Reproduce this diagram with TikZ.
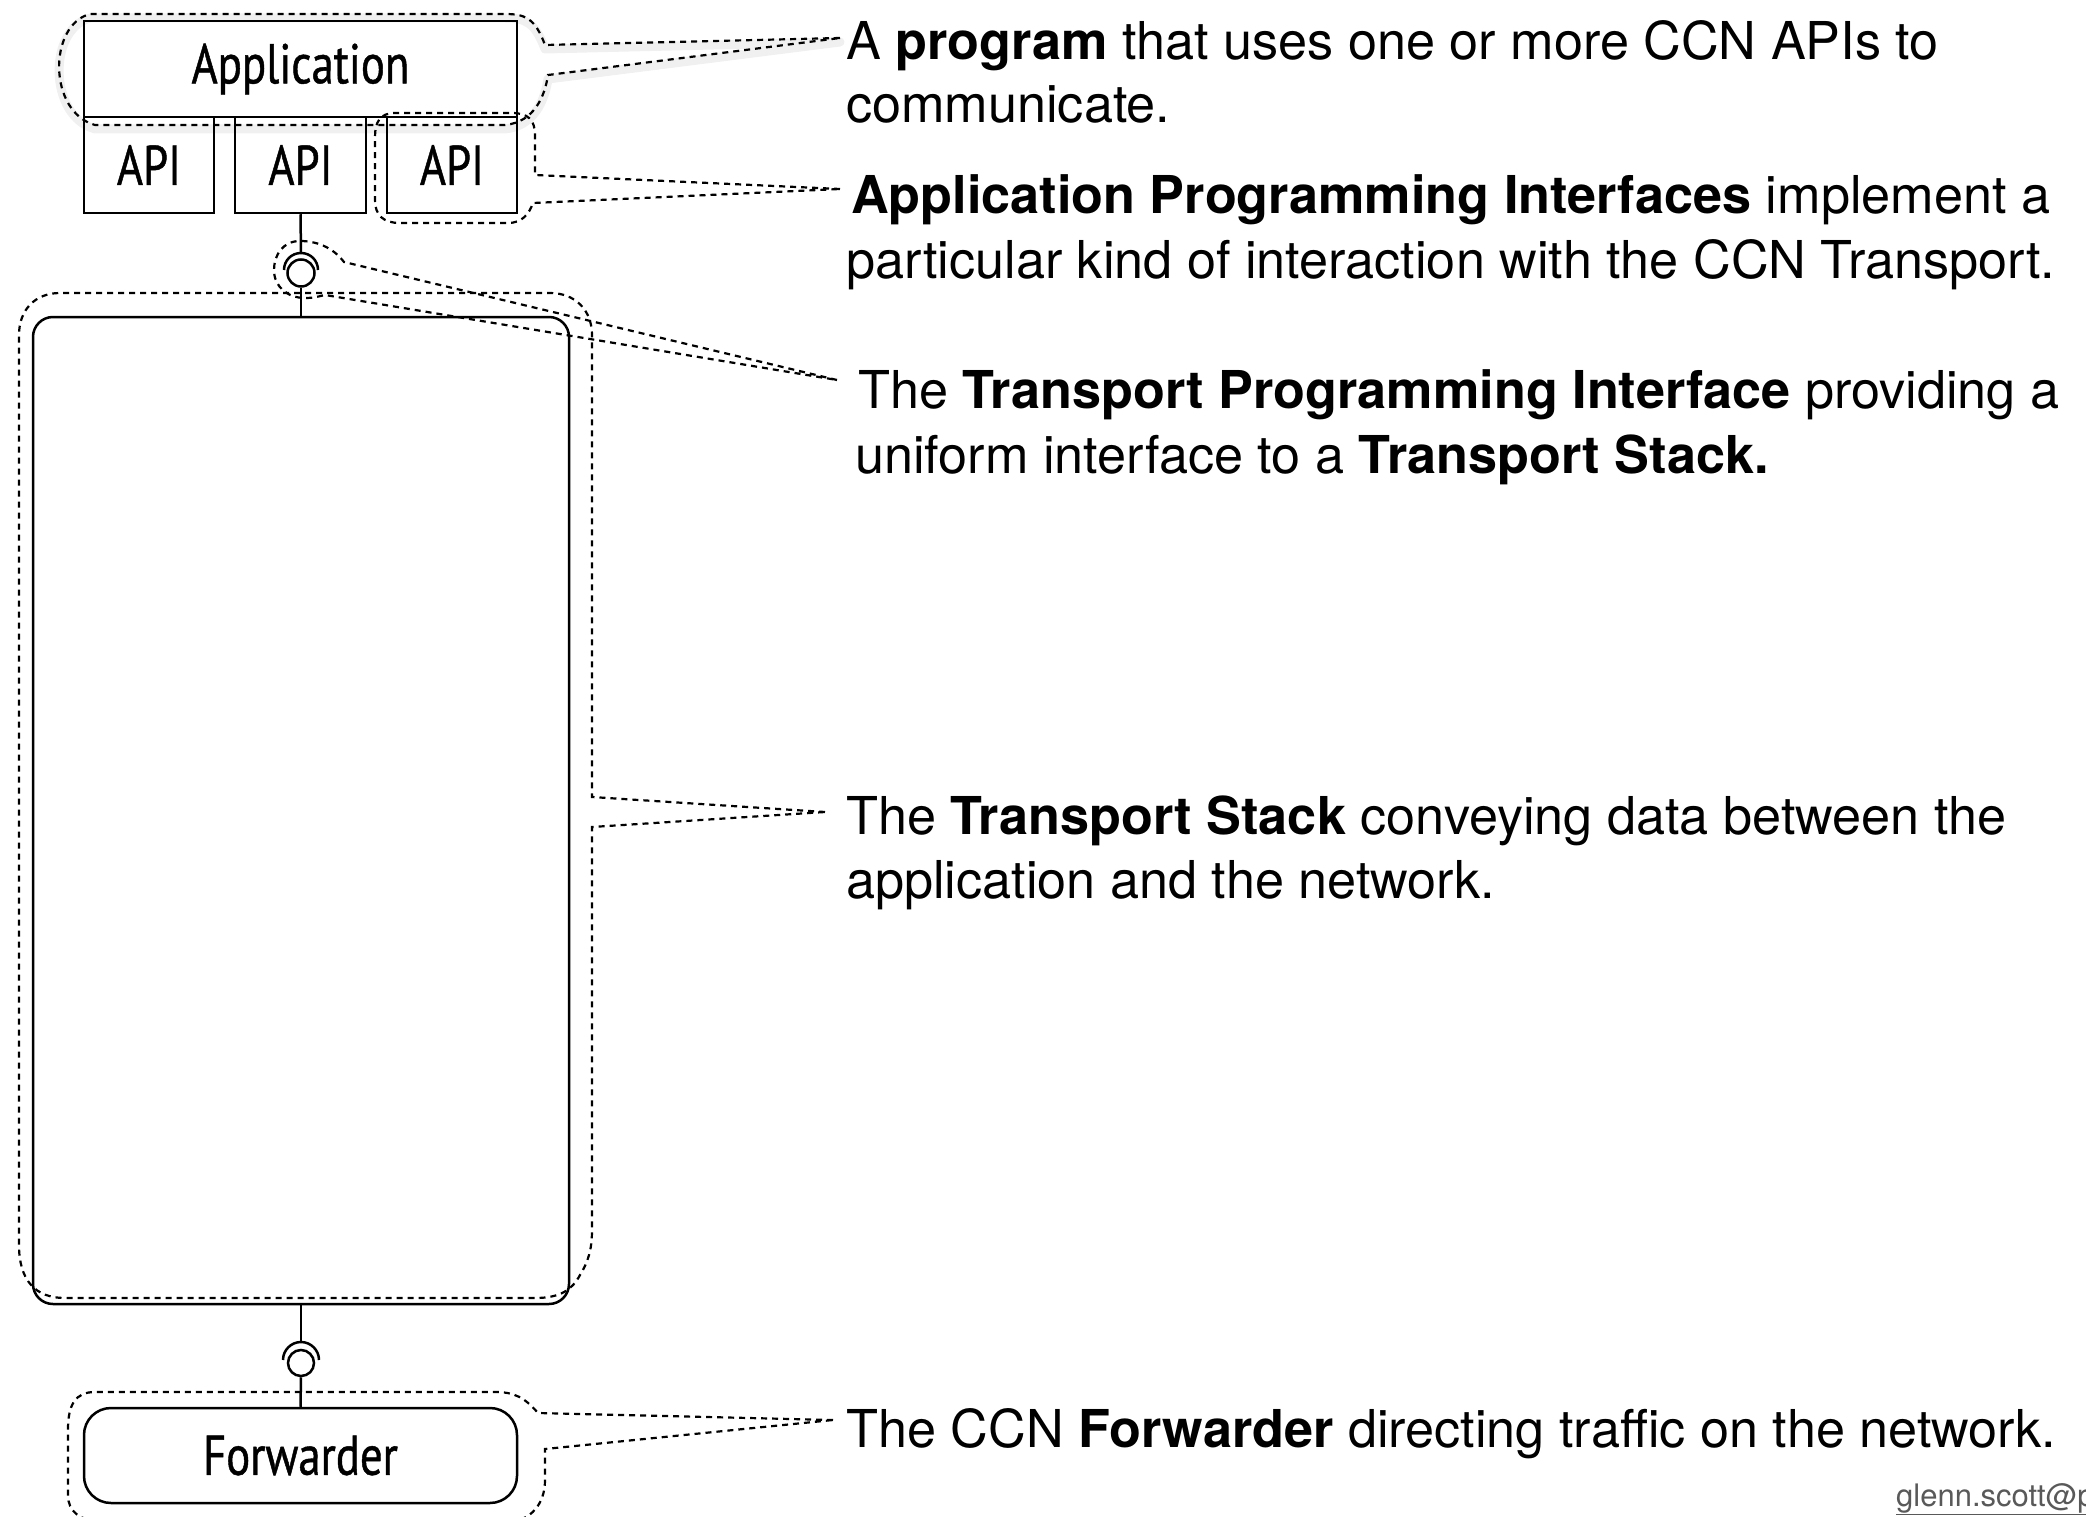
\documentclass[tikz,border=0pt]{standalone}
\usepackage{fontspec}
\setmainfont{TeX Gyre Heros}
\newfontfamily\boxfont[FakeStretch=0.8,FakeBold=0.8]{PT Sans}
\begin{document}
\begin{tikzpicture}[x=1pt,y=-1pt,
  box/.style={draw, line width=2.5pt, inner sep=0pt,
    font={\boxfont\fontsize{56}{56}\selectfont}},
  wire/.style={line width=2.5pt},
  ball/.style={draw, line width=2.5pt, circle, inner sep=0pt},
  callout/.style={line width=2.2pt, dash pattern=on 6pt off 5pt},
  halo/.style={line width=9pt, black!6, line join=round},
  txt/.style={anchor=base west, inner sep=0pt, font={\fontsize{52.2}{64}\selectfont}},
  mail/.style={anchor=base west, inner sep=0pt, text=black!65,
    font={\fontsize{31}{36}\selectfont}}]
\path[use as bounding box] (0,0) rectangle (2086,1517);
\clip (0,0) rectangle (2086,1517);

% soft halo under the application callout
\draw[halo, shift={(0,4)}] (840,38) -- (545,45) .. controls (535,18) and (525,14) .. (505,14) -- (90,14)
  .. controls (48,25) and (48,112) .. (95,125) -- (505,125)
  .. controls (535,122) and (545,95) .. (548,75) -- cycle;

% components
\node[box, minimum width=433pt, minimum height=96pt] (app) at (300.5,69) {Application};
\node[box, minimum width=130pt, minimum height=96pt] (api1) at (149,165) {API};
\node[box, minimum width=131pt, minimum height=96pt] (api2) at (300.5,165) {API};
\node[box, minimum width=130pt, minimum height=96pt] (api3) at (452,165) {API};
\node[box, rounded corners=20pt, minimum width=536pt, minimum height=987pt] (stack) at (301,810.5) {};
\node[box, rounded corners=27pt, minimum width=433pt, minimum height=95pt] (fwd) at (300.5,1455.5) {Forwarder};

% upper ball-and-socket interface
\node[ball, minimum size=27pt] (ball1) at (301,273) {};
\coordinate (sock1) at (301,253);
\draw[wire] (api2.south) -- (sock1);
\draw[wire] (284,270) .. controls (284,260.6) and (291.4,253) .. (sock1)
  .. controls (310.6,253) and (318,260.6) .. (318,270);
\draw[wire] (ball1.south) -- (stack.north);

% lower ball-and-socket interface
\node[ball, minimum size=26pt] (ball2) at (301,1363) {};
\coordinate (sock2) at (301,1342);
\draw[wire] (stack.south) -- (sock2);
\draw[wire] (283,1360) .. controls (283,1350.1) and (291.1,1342) .. (sock2)
  .. controls (310.9,1342) and (319,1350.1) .. (319,1360);
\draw[wire] (ball2.south) -- (fwd.north);

% callout outlines
\draw[callout] (840,38) -- (545,45) .. controls (535,18) and (525,14) .. (505,14) -- (90,14)
  .. controls (48,25) and (48,112) .. (95,125) -- (505,125)
  .. controls (535,122) and (545,95) .. (548,75) -- cycle;

\draw[callout] (840,189) -- (535,175) -- (535,135) .. controls (535,120) and (528,113) .. (512,113)
  -- (395,113) .. controls (380,113) and (375,122) .. (375,137) -- (375,200)
  .. controls (375,215) and (383,223) .. (400,223) -- (508,223)
  .. controls (522,223) and (529,214) .. (533,203) -- cycle;

\draw[callout] (837,380) -- (344,262) .. controls (335,250) and (320,241) .. (300,241)
  .. controls (283,241) and (274,255) .. (274,270)
  .. controls (274,287) and (288,298) .. (305,298)
  .. controls (315,298) and (320,296) .. (325,295) -- cycle;

\draw[callout] (825,812) -- (592,797) -- (592,335) .. controls (592,310) and (575,293) .. (550,293)
  -- (60,293) .. controls (35,293) and (19,310) .. (19,335) -- (19,1245)
  .. controls (19,1280) and (35,1298) .. (65,1298) -- (535,1298)
  .. controls (560,1298) and (572,1290) .. (580,1275)
  .. controls (588,1262) and (592,1250) .. (592,1230) -- (592,827) -- cycle;

\draw[callout] (833,1420) -- (538,1413) .. controls (525,1398) and (515,1392) .. (495,1392)
  -- (95,1392) .. controls (75,1392) and (68,1405) .. (68,1430) -- (68,1495)
  .. controls (68,1512) and (80,1520) .. (100,1522) -- (510,1522)
  .. controls (530,1520) and (545,1505) .. (545,1480) -- (545,1449) -- cycle;

% descriptions
\node[txt] (t1) at (846,60) {A \textbf{program} that uses one or more CCN APIs to};
\node[txt] (t2) at (846,123) {communicate.};
\node[txt] (t3) at (851,214) {\textbf{Application Programming Interfaces} implement a};
\node[txt] (t4) at (846,279) {particular kind of interaction with the CCN Transport.};
\node[txt] (t5) at (858,408) {The \textbf{Transport Programming Interface} providing a};
\node[txt] (t6) at (855,473) {uniform interface to a \textbf{Transport Stack.}};
\node[txt] (t7) at (846,834) {The \textbf{Transport Stack} conveying data between the};
\node[txt] (t8) at (846,898) {application and the network.};
\node[txt] (t9) at (846,1447) {The CCN \textbf{Forwarder} directing traffic on the network.};
\node[mail] (addr) at (1896,1506) {\underline{glenn.scott@p}};
\end{tikzpicture}
\end{document}
